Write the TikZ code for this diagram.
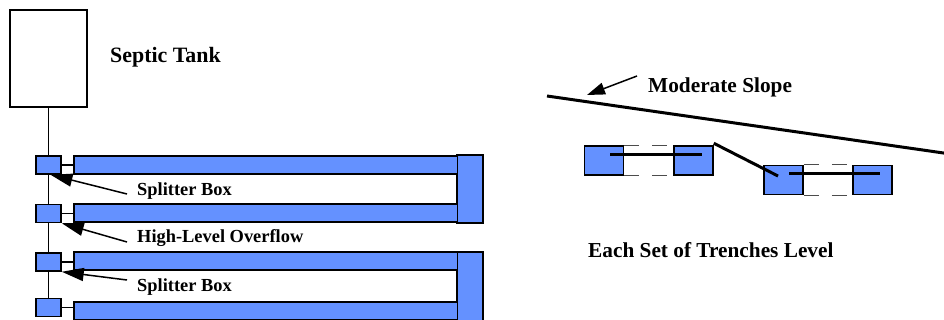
\documentclass[tikz,border=0pt]{standalone}
\usepackage{fontspec}
\setmainfont{Liberation Serif}
\usepackage{xcolor}
\usetikzlibrary{arrows.meta, positioning}
\definecolor{TrenchBlue}{RGB}{100, 145, 255}

\begin{document}
\begin{tikzpicture}[
        x=1pt, y=-1pt,
        tank/.style={draw, line width=1.5pt, minimum width=77pt, minimum height=97pt, inner sep=0pt},
        splitter/.style={draw, fill=TrenchBlue, line width=1.5pt, minimum width=25pt, minimum height=18pt, inner sep=0pt},
        levelbox/.style={draw, fill=TrenchBlue, line width=1.5pt, minimum width=39pt, minimum height=29pt, inner sep=0pt},
        pipe/.style={line width=1.6pt},
        header/.style={pipe, line width=3pt},
        gap/.style={line width=0.8pt, black!70, dash pattern=on 15pt off 13pt},
        pointer/.style={line width=1.5pt, -{Triangle[length=22pt, width=13pt]}},
        biglabel/.style={font=\fontsize{21.3}{24}\selectfont\bfseries, inner sep=0pt, anchor=west},
        smalllabel/.style={font=\fontsize{18.4}{21}\selectfont\bfseries, inner sep=0pt, anchor=west}
    ]
    
    \useasboundingbox (0,0) rectangle (944,320);
    
    % tank and splitter boxes
    \node[tank] (tank) at (48.5,58.5) {};
    \node[biglabel, font=\fontsize{21.9}{24}\selectfont\bfseries] (tanklbl) at (110,57) {Septic Tank};
    
    \node[splitter] (sb1) at (48.5,165) {};
    \node[splitter] (sb2) at (48.5,213.5) {};
    \node[splitter] (sb3) at (48.5,262) {};
    \node[splitter] (sb4) at (48.5,307.5) {};
    
    \draw[pipe] (tank.south) -- (sb1.north);
    \draw[pipe] (sb1.south) -- (sb2.north);
    \draw[pipe] (sb2.south) -- (sb3.north);
    \draw[pipe] (sb3.south) -- (sb4.north);
    
    % trenches
    \foreach \top/\bot in {155/223, 252/325} {
        \filldraw[fill=TrenchBlue, line width=1.5pt] (457,\top) rectangle (483,\bot);
    }
    \foreach \n/\y in {1/156, 2/204, 3/252, 4/302} {
        \fill[TrenchBlue] (74,\y) rectangle (457,\y+18);
        \draw[line width=1.5pt] (457,\y) -- (74,\y) -- (74,\y+18) -- (457,\y+18);
        \coordinate (tr\n) at (74,\y+9);
        \draw[pipe] (sb\n.east) -- (sb\n.east -| tr\n);
    }
    
    % labels with pointers
    \node[smalllabel] (lbl1) at (137,191) {Splitter Box};
    \node[smalllabel] (lbl2) at (137,238.5) {High-Level Overflow};
    \node[smalllabel] (lbl3) at (137,287) {Splitter Box};
    
    \draw[pointer] ([xshift=-10pt, yshift=-3pt]lbl1.west) -- ([xshift=2pt]sb1.south);
    \draw[pointer] ([xshift=-10pt, yshift=-3.5pt]lbl2.west) -- (sb2.south east);
    \draw[pointer] ([xshift=-10pt, yshift=7pt]lbl3.west) -- (sb3.south east);
    
    % slope
    \coordinate (slopeL) at (547,96);
    \coordinate (slopeR) at (947,153.5);
    \draw[line width=3pt] (slopeL) -- (slopeR);
    \node[biglabel] (slopelbl) at (648,87) {Moderate Slope};
    \draw[pointer, -{Triangle[length=18pt, width=12pt]}] ([xshift=-11pt, yshift=11pt]slopelbl.west) -- (587,95);
    
    % trenches on level
    \node[levelbox] (lvA) at (604,160.5) {};
    \node[levelbox] (lvB) at (693.5,160.5) {};
    \node[levelbox] (lvC) at (783.5,180) {};
    \node[levelbox] (lvD) at (872.5,180) {};
    
    \draw[gap] (lvA.north east) -- (lvB.north west);
    \draw[gap] (lvA.south east) -- (lvB.south west);
    \draw[gap] (lvC.north east) -- (lvD.north west);
    \draw[gap] (lvC.south east) -- (lvD.south west);
    
    \draw[header] ([xshift=6pt, yshift=5.5pt]lvA.center) -- ([xshift=8.5pt, yshift=5.5pt]lvB.center);
    \draw[header] ([yshift=2pt]lvB.north east) -- ([xshift=-5.5pt, yshift=4pt]lvC.center);
    \draw[header] ([xshift=5.5pt, yshift=6pt]lvC.center) -- ([xshift=7.5pt, yshift=6pt]lvD.center);
    
    \node[biglabel] (levellbl) at (588,250) {Each Set of Trenches Level};
    
\end{tikzpicture}
\end{document}
